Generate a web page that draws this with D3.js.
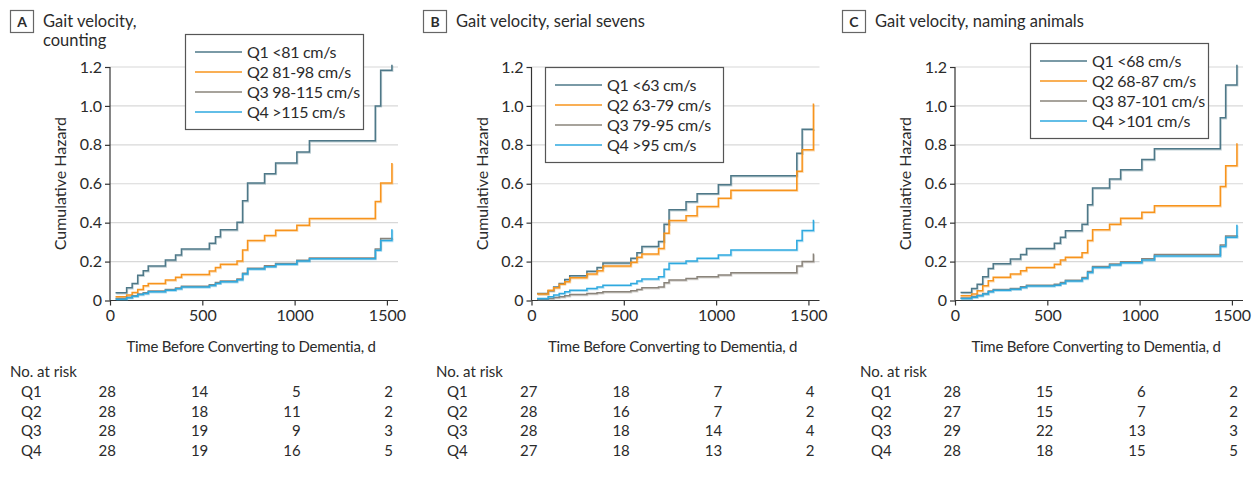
<!DOCTYPE html>
<html>
<head>
<meta charset="utf-8">
<script src="https://cdn.jsdelivr.net/npm/d3@7"></script>
<style>
  body { margin: 0; background: #fff; }
  svg { display: block; font-family: Lato, "Open Sans", sans-serif; }
</style>
</head>
<body>
<svg id="chart" width="1259" height="477"></svg>
<script>
// shared event times (days) - all three panels step at the same days
var times = [30, 90, 120, 150, 180, 207, 300, 355, 387, 538, 571, 598, 688, 718, 745, 837, 897, 1012, 1080, 1437, 1466, 1527];

var quartiles = ["Q1", "Q2", "Q3", "Q4"];
var colors = ["#4e7888", "#f7941d", "#8a847b", "#2ea9df"];
var xTicks = [0, 500, 1000, 1500];
var yTicks = [0, 0.2, 0.4, 0.6, 0.8, 1.0, 1.2];
var yTickLabels = ["0", "0.2", "0.4", "0.6", "0.8", "1.0", "1.2"];
var letters = ["A", "B", "C"];
var titles = [["Gait velocity,", "counting"], ["Gait velocity, serial sevens"], ["Gait velocity, naming animals"]];

var legendA = ["Q1 <81 cm/s", "Q2 81-98 cm/s", "Q3 98-115 cm/s", "Q4 >115 cm/s"];
var legendB = ["Q1 <63 cm/s", "Q2 63-79 cm/s", "Q3 79-95 cm/s", "Q4 >95 cm/s"];
var legendC = ["Q1 <68 cm/s", "Q2 68-87 cm/s", "Q3 87-101 cm/s", "Q4 >101 cm/s"];

// cumulative hazard, panel A (counting)
var hazA = [
  [0.040, 0.065, 0.088, 0.130, 0.153, 0.177, 0.208, 0.234, 0.265, 0.294, 0.328, 0.363, 0.402, 0.512, 0.604, 0.652, 0.707, 0.763, 0.821, 1.000, 1.183, 1.212],
  [0.019, 0.028, 0.041, 0.057, 0.076, 0.088, 0.105, 0.119, 0.134, 0.151, 0.169, 0.186, 0.203, 0.260, 0.308, 0.334, 0.361, 0.387, 0.421, 0.509, 0.604, 0.707],
  [0.010, 0.017, 0.025, 0.034, 0.040, 0.049, 0.057, 0.064, 0.073, 0.081, 0.092, 0.100, 0.111, 0.140, 0.166, 0.178, 0.190, 0.207, 0.219, 0.265, 0.318, 0.322],
  [0.007, 0.014, 0.022, 0.031, 0.036, 0.045, 0.053, 0.060, 0.069, 0.077, 0.088, 0.096, 0.107, 0.136, 0.162, 0.174, 0.186, 0.203, 0.215, 0.258, 0.308, 0.366]
];
// panel B (serial sevens)
var hazB = [
  [0.036, 0.050, 0.070, 0.088, 0.108, 0.127, 0.150, 0.170, 0.193, 0.217, 0.246, 0.277, 0.303, 0.392, 0.466, 0.507, 0.549, 0.595, 0.641, 0.757, 0.880, 0.882],
  [0.033, 0.053, 0.065, 0.084, 0.096, 0.117, 0.136, 0.153, 0.177, 0.196, 0.222, 0.239, 0.267, 0.346, 0.411, 0.435, 0.483, 0.526, 0.566, 0.664, 0.775, 1.012],
  [0.007, 0.010, 0.015, 0.019, 0.024, 0.031, 0.036, 0.040, 0.045, 0.050, 0.057, 0.065, 0.070, 0.091, 0.105, 0.113, 0.122, 0.131, 0.143, 0.177, 0.200, 0.242],
  [0.010, 0.019, 0.028, 0.036, 0.045, 0.053, 0.062, 0.069, 0.079, 0.088, 0.100, 0.110, 0.122, 0.160, 0.191, 0.203, 0.217, 0.234, 0.260, 0.308, 0.360, 0.415]
];
// panel C (naming animals)
var hazC = [
  [0.041, 0.062, 0.083, 0.122, 0.165, 0.189, 0.213, 0.237, 0.267, 0.294, 0.325, 0.358, 0.392, 0.492, 0.578, 0.624, 0.672, 0.724, 0.780, 0.939, 1.108, 1.212],
  [0.024, 0.033, 0.050, 0.076, 0.101, 0.119, 0.136, 0.153, 0.170, 0.186, 0.208, 0.222, 0.246, 0.308, 0.363, 0.392, 0.423, 0.454, 0.487, 0.586, 0.693, 0.808],
  [0.013, 0.020, 0.027, 0.036, 0.049, 0.057, 0.062, 0.071, 0.078, 0.083, 0.092, 0.104, 0.118, 0.149, 0.175, 0.187, 0.199, 0.214, 0.236, 0.285, 0.332, 0.336],
  [0.010, 0.017, 0.024, 0.033, 0.045, 0.053, 0.058, 0.067, 0.074, 0.079, 0.088, 0.100, 0.113, 0.144, 0.169, 0.182, 0.194, 0.208, 0.229, 0.277, 0.325, 0.389]
];

// numbers at risk at 0, 500, 1000, 1500 d
var riskA = [[28, 14, 5, 2], [28, 18, 11, 2], [28, 19, 9, 3], [28, 19, 16, 5]];
var riskB = [[27, 18, 7, 4], [28, 16, 7, 2], [28, 18, 14, 4], [27, 18, 13, 2]];
var riskC = [[28, 15, 6, 2], [27, 15, 7, 2], [29, 22, 13, 3], [28, 18, 15, 5]];

var panels = [
  {haz: hazA, risk: riskA, legend: legendA, left: 110, boxX: 10, tableX: 10, leg: {x: 185, y: 34}},
  {haz: hazB, risk: riskB, legend: legendB, left: 531.5, boxX: 423, tableX: 436, leg: {x: 545, y: 67}},
  {haz: hazC, risk: riskC, legend: legendC, left: 955, boxX: 842, tableX: 860, leg: {x: 1030, y: 43}}
];

var svg = d3.select("#chart");
var plotW = 288, plotTop = 67, plotBottom = 300.5;
var textColor = "#2b2b2b", fs = 15;

panels.forEach(function(p, pi) {
  var x = d3.scaleLinear().domain([0, 1560]).range([p.left, p.left + plotW]);
  var y = d3.scaleLinear().domain([0, 1.2]).range([plotBottom, plotTop]);
  var g = svg.append("g");

  // panel letter box + title
  g.append("rect").attr("x", p.boxX + 0.5).attr("y", 10.5).attr("width", 23).attr("height", 22)
    .attr("fill", "#fff").attr("stroke", "#666").attr("stroke-width", 1.2);
  g.append("text").attr("x", p.boxX + 12).attr("y", 27).attr("text-anchor", "middle")
    .attr("font-weight", "bold").attr("font-size", 14).attr("fill", textColor).text(letters[pi]);
  titles[pi].forEach(function(t, i) {
    g.append("text").attr("x", p.boxX + 33).attr("y", 27 + i * 19)
      .attr("font-size", 16.5).attr("fill", textColor).text(t);
  });

  // gridlines
  g.selectAll(".grid").data(yTicks.slice(1)).enter().append("line")
    .attr("x1", p.left).attr("x2", p.left + plotW)
    .attr("y1", function(d) { return y(d); }).attr("y2", function(d) { return y(d); })
    .attr("stroke", "#d8d8d8").attr("stroke-width", 1.2);

  // axes
  var yAxis = d3.axisLeft(y).tickValues(yTicks).tickSize(5).tickPadding(3)
    .tickFormat(function(d, i) { return yTickLabels[i]; });
  var gy = g.append("g").attr("transform", "translate(" + p.left + ",0)").call(yAxis);
  var xAxis = d3.axisBottom(x).tickValues(xTicks).tickSize(5).tickPadding(4).tickFormat(d3.format("d"));
  var gx = g.append("g").attr("transform", "translate(0," + plotBottom + ")").call(xAxis);
  [gx, gy].forEach(function(a) {
    a.select(".domain").attr("stroke", "#333").attr("stroke-width", 1.2);
    a.selectAll(".tick line").attr("stroke", "#333").attr("stroke-width", 1.2);
    a.selectAll(".tick text").attr("font-size", 16).attr("font-family", "Lato, sans-serif").attr("fill", textColor);
  });
  gy.select(".domain").attr("d", "M0," + plotTop + "V" + plotBottom);
  gx.select(".domain").attr("d", "M" + p.left + ",0H" + (p.left + plotW));

  // axis titles
  g.append("text").attr("transform", "translate(" + (p.left - 44) + "," + ((plotTop + plotBottom) / 2) + ") rotate(-90)")
    .attr("text-anchor", "middle").attr("font-size", 16).attr("fill", textColor).text("Cumulative Hazard");
  g.append("text").attr("x", p.left + plotW / 2 - 3).attr("y", 352)
    .attr("text-anchor", "middle").attr("font-size", fs).attr("letter-spacing", "-0.25px")
    .attr("fill", textColor).text("Time Before Converting to Dementia, d");

  // step curves
  var line = d3.line().x(function(d) { return x(d[0]); }).y(function(d) { return y(d[1]); }).curve(d3.curveStepAfter);
  p.haz.forEach(function(series, si) {
    var pts = times.map(function(t, i) { return [t, series[i]]; });
    g.append("path").attr("d", line(pts)).attr("transform", "translate(0.8,1)")
      .attr("fill", "none").attr("stroke", colors[si]).attr("stroke-opacity", 0.35).attr("stroke-width", 1.4);
    g.append("path").attr("d", line(pts))
      .attr("fill", "none").attr("stroke", colors[si]).attr("stroke-width", 1.5);
  });

  // legend
  var lg = g.append("g").attr("transform", "translate(" + p.leg.x + "," + p.leg.y + ")");
  lg.append("rect").attr("x", 0.5).attr("y", 0.5).attr("width", 178).attr("height", 95)
    .attr("fill", "#fff").attr("stroke", "#555").attr("stroke-width", 1.2);
  p.legend.forEach(function(t, i) {
    var ly = 18 + i * 20;
    lg.append("line").attr("x1", 10).attr("x2", 57).attr("y1", ly).attr("y2", ly)
      .attr("stroke", colors[i]).attr("stroke-width", 1.5);
    lg.append("text").attr("x", 62).attr("y", ly + 5.5).attr("font-size", 16).attr("letter-spacing", "-0.3px")
      .attr("fill", textColor).text(t);
  });

  // numbers at risk table
  g.append("text").attr("x", p.tableX).attr("y", 377).attr("font-size", fs).attr("fill", textColor).text("No. at risk");
  p.risk.forEach(function(row, ri) {
    var ry = 397 + ri * 19.7;
    g.append("text").attr("x", p.tableX + 11).attr("y", ry).attr("font-size", fs).attr("fill", textColor).text(quartiles[ri]);
    g.selectAll(null).data(row).enter().append("text")
      .attr("x", function(d, i) { return x(xTicks[i]) + 6; }).attr("y", ry)
      .attr("text-anchor", "end").attr("font-size", fs).attr("fill", textColor)
      .text(function(d) { return d; });
  });
});
</script>
</body>
</html>
